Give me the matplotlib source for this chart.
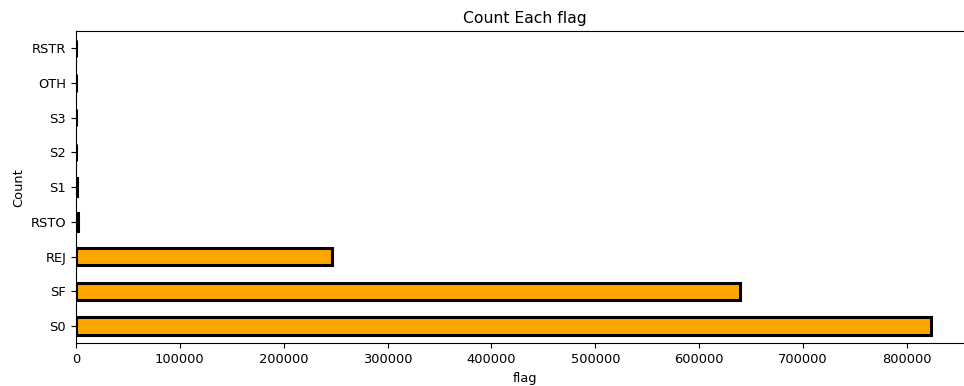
import matplotlib

matplotlib.use("Agg")
import matplotlib.pyplot as plt
import pandas as pd

# flag 计数（从下到上）
flags = ["S0", "SF", "REJ", "RSTO", "S1", "S2", "S3", "OTH", "RSTR"]
counts = [823000, 639000, 247000, 1800, 600, 500, 400, 300, 200]

plt.rcParams["font.size"] = 9.4

s = pd.Series(counts, index=flags)

fig = plt.figure(figsize=(9.64, 3.86), dpi=100)
ax = fig.add_axes([0.0788, 0.1106, 0.931, 0.8091])

s.plot.barh(ax=ax, color="orange", edgecolor="black", linewidth=2.2)
ax.set_title("Count Each flag")
ax.set_xlabel("flag")
ax.set_ylabel("Count")

fig.savefig("out.png", dpi=100)
plt.close()
